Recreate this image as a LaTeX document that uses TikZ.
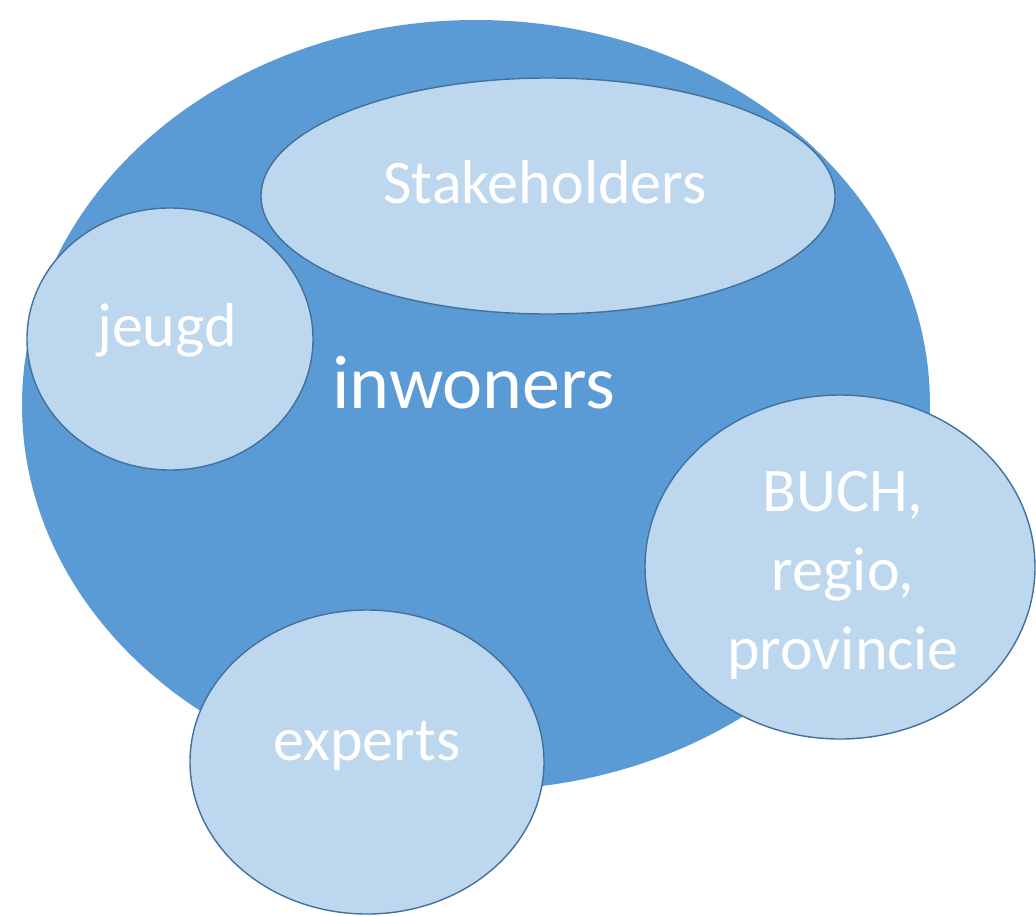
\documentclass[tikz,border=0pt]{standalone}
\usepackage{fontspec}
\setmainfont{Carlito}
\usepackage{tikz}
\usetikzlibrary{shapes.geometric,positioning}

\definecolor{groupblue}{HTML}{5B9BD5}
\definecolor{bubbleblue}{HTML}{BDD7EE}
\definecolor{edgeblue}{HTML}{41719C}

\begin{document}
\begin{tikzpicture}[x=0.5pt,y=-0.5pt]
	\tikzstyle{group} = [ellipse, inner sep=0pt, fill=groupblue]
	\tikzstyle{bubble} = [ellipse, inner sep=0pt, fill=bubbleblue, draw=edgeblue, line width=0.7pt]
	\tikzstyle{label} = [text=white, anchor=base, inner sep=0pt, align=center,
	font=\fontsize{31}{39.5}\selectfont]
	\useasboundingbox (0,0) rectangle (1036,915);
	\node (inwoners) [group, minimum width=454pt, minimum height=385pt] at (476,405) {};
	\node (stakeholders) [bubble, minimum width=287pt, minimum height=118pt] at (548,196) {};
	\node (jeugd) [bubble, minimum width=143pt, minimum height=131pt] at (170,339) {};
	\node (buch) [bubble, minimum width=195pt, minimum height=172pt] at (840,567) {};
	\node (experts) [bubble, minimum width=177pt, minimum height=152pt] at (367,762) {};
	\node (inwonersText) [label, font=\fontsize{38}{46}\selectfont] at (474,408) {inwoners};
	\node (stakeholdersText) [label] at (545,203) {Stakeholders};
	\node (jeugdText) [label] at (167,346) {jeugd};
	\node (buchText) [label, anchor=center] at (843,575) {BUCH,\\regio,\\provincie};
	\node (expertsText) [label] at (367,760) {experts};
\end{tikzpicture}
\end{document}
